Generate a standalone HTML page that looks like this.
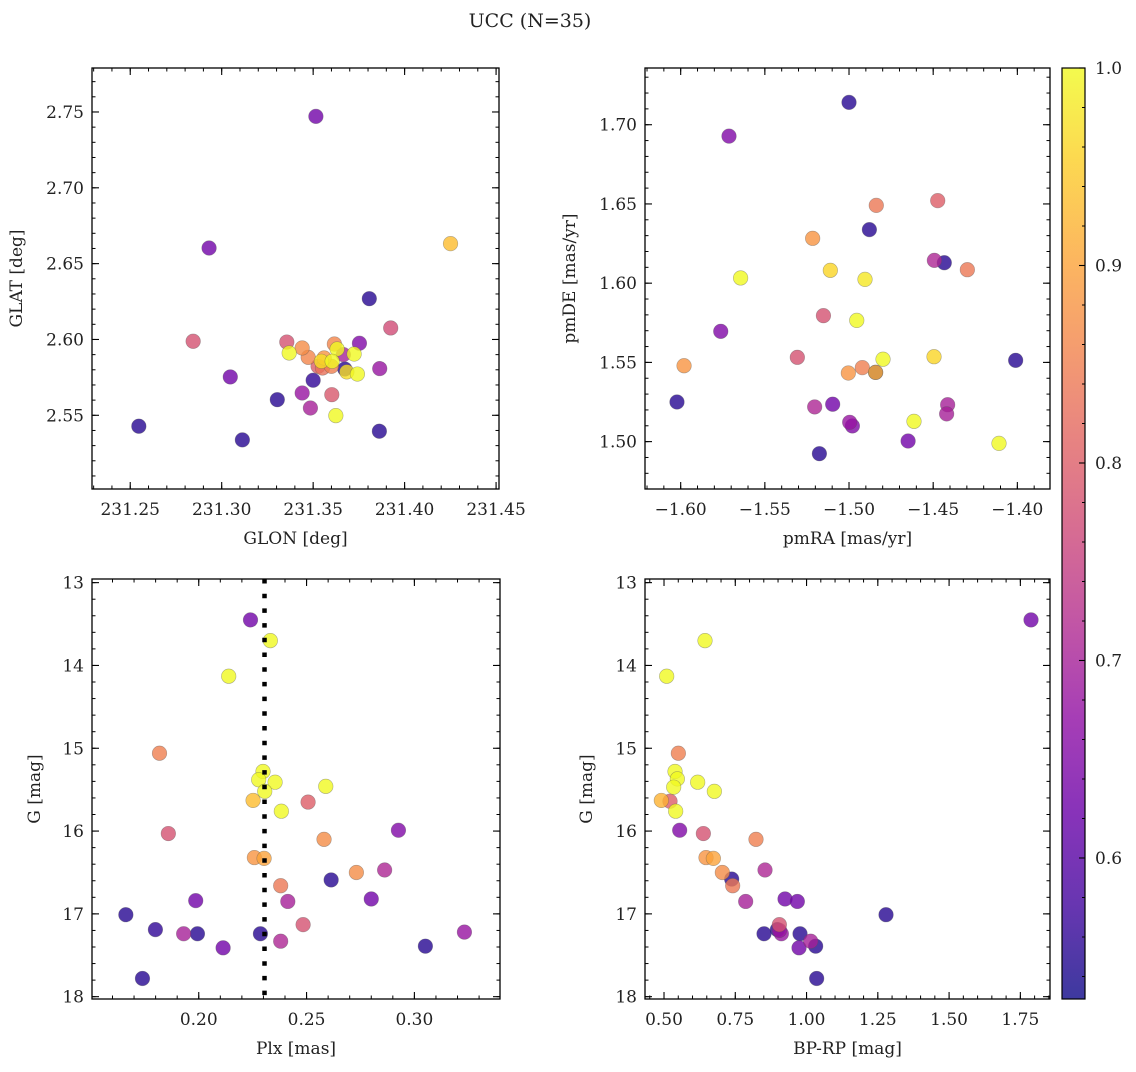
<!DOCTYPE html>
<html><head><meta charset="utf-8">
<style>
html,body{margin:0;padding:0;background:#fff;}
svg text{font-family:"DejaVu Serif","Liberation Serif",serif;fill:#222;}
</style></head>
<body>
<svg id="fig" width="1136" height="1067" viewBox="0 0 1136 1067" xmlns="http://www.w3.org/2000/svg">
<text x="530" y="27" font-size="19" text-anchor="middle">UCC (N=35)</text>
</svg>
<script>
// ---- data: panel 1 (GLON/GLAT) ----
const glonVals=[231.3515,231.2931,231.4251,231.3807,231.3924,231.2844,231.3356,231.3369,231.3440,231.3473,231.3616,231.3631,231.3753,231.3665,231.3724,231.3560,231.3545,231.3604,231.3527,231.3600,231.3551,231.3673,231.3684,231.3742,231.3864,231.3047,231.3500,231.3440,231.3602,231.3304,231.3485,231.3624,231.2547,231.3862,231.3113];
const glatVals=[2.7471,2.6603,2.6632,2.6269,2.6076,2.5988,2.5983,2.5911,2.5944,2.5882,2.5970,2.5937,2.5975,2.5900,2.5904,2.5878,2.5856,2.5856,2.5823,2.5823,2.5812,2.5805,2.5786,2.5772,2.5808,2.5753,2.5731,2.5647,2.5636,2.5603,2.5548,2.5498,2.5428,2.5395,2.5338];
const probP1=[0.63,0.63,0.93,0.55,0.77,0.78,0.78,1.0,0.87,0.86,0.86,1.0,0.65,0.70,1.0,0.88,0.97,1.0,0.80,0.85,0.83,0.55,0.97,1.0,0.68,0.63,0.56,0.68,0.79,0.55,0.70,1.0,0.55,0.55,0.55];
// ---- data: panel 2 (pmRA/pmDE) ----
const pmraVals=[-1.5000,-1.5713,-1.4838,-1.4473,-1.4879,-1.5216,-1.4493,-1.4434,-1.4297,-1.5644,-1.5111,-1.4905,-1.5152,-1.4954,-1.5762,-1.5307,-1.5980,-1.4798,-1.4495,-1.4010,-1.5004,-1.4921,-1.4842,-1.4842,-1.6022,-1.5204,-1.5097,-1.4414,-1.4420,-1.4996,-1.4980,-1.4614,-1.4649,-1.4109,-1.5176];
const pmdeVals=[1.7141,1.6928,1.6491,1.6521,1.6338,1.6283,1.6144,1.6129,1.6085,1.6033,1.6081,1.6024,1.5795,1.5765,1.5696,1.5532,1.5479,1.5520,1.5536,1.5513,1.5433,1.5467,1.5437,1.5437,1.5250,1.5219,1.5236,1.5233,1.5175,1.5122,1.5099,1.5128,1.5004,1.4989,1.4924];
const probP2=[0.55,0.65,0.84,0.80,0.55,0.88,0.71,0.55,0.84,1.0,0.96,0.98,0.78,1.0,0.65,0.78,0.88,1.0,0.96,0.55,0.88,0.85,0.55,0.92,0.55,0.71,0.63,0.70,0.70,0.68,0.65,1.0,0.63,1.0,0.55];
// ---- data: panel 3 (Plx/G) ----
const plxVals=[0.2240,0.2332,0.2139,0.1818,0.2298,0.2278,0.2354,0.2306,0.2589,0.2252,0.2507,0.2383,0.1859,0.2926,0.2581,0.2258,0.2303,0.2731,0.2862,0.2614,0.2380,0.1986,0.2413,0.2800,0.1662,0.2484,0.1799,0.1930,0.1994,0.2286,0.3232,0.2380,0.2113,0.3051,0.1739];
const gP3=[13.45,13.70,14.13,15.06,15.28,15.38,15.41,15.52,15.46,15.63,15.65,15.76,16.03,15.99,16.10,16.32,16.33,16.50,16.47,16.59,16.66,16.84,16.85,16.82,17.01,17.13,17.19,17.24,17.24,17.24,17.22,17.33,17.41,17.39,17.78];
const probP3=[0.63,1.0,1.0,0.85,1.0,1.0,1.0,1.0,1.0,0.93,0.80,1.0,0.78,0.65,0.87,0.88,0.90,0.87,0.71,0.55,0.84,0.63,0.70,0.63,0.55,0.78,0.56,0.70,0.55,0.55,0.68,0.71,0.63,0.55,0.55];
const plxMean=0.2305;
// ---- data: panel 4 (BP-RP/G) ----
const bprpVals=[1.7874,0.6438,0.5094,0.5503,0.5386,0.5468,0.6181,0.5339,0.6766,0.4906,0.5210,0.5409,0.5550,0.6380,0.8227,0.6473,0.6731,0.8543,0.7046,0.7374,0.7409,0.7865,0.9245,0.9677,1.2788,0.9046,0.8976,0.9116,0.8508,0.9771,1.0145,0.9736,1.0320,1.0355,0.9050];
const gP4=[13.45,13.70,14.13,15.06,15.28,15.37,15.41,15.47,15.52,15.63,15.64,15.76,15.99,16.03,16.10,16.32,16.33,16.47,16.50,16.58,16.66,16.85,16.82,16.85,17.01,17.13,17.19,17.24,17.24,17.24,17.33,17.41,17.39,17.78,17.20];
const probP4=[0.63,1.0,1.0,0.85,1.0,1.0,1.0,1.0,1.0,0.92,0.80,1.0,0.65,0.78,0.85,0.88,0.90,0.71,0.87,0.55,0.84,0.70,0.63,0.63,0.55,0.78,0.55,0.68,0.55,0.55,0.70,0.63,0.55,0.55,0.68];
// ---- tick labels ----
const p1XTicks=["231.25","231.30","231.35","231.40","231.45"];
const p1YTicks=["2.55","2.60","2.65","2.70","2.75"];
const p2XTicks=["-1.60","-1.55","-1.50","-1.45","-1.40"];
const p2YTicks=["1.50","1.55","1.60","1.65","1.70"];
const p3XTicks=["0.20","0.25","0.30"];
const gTicks=["13","14","15","16","17","18"];
const p4XTicks=["0.50","0.75","1.00","1.25","1.50","1.75"];
const cbTicks=["0.6","0.7","0.8","0.9","1.0"];

const NS="http://www.w3.org/2000/svg";
const svg=document.getElementById('fig');
function mk(tag,attrs,parent){const e=document.createElementNS(NS,tag);for(const k in attrs)e.setAttribute(k,attrs[k]);(parent||svg).appendChild(e);return e;}
const plasmaStops=["#0d0887","#41049d","#6a00a8","#8f0da4","#b12a90","#cc4778","#e16462","#f2844b","#fca636","#fcce25","#f0f921"];
function hex(h){return [parseInt(h.substr(1,2),16),parseInt(h.substr(3,2),16),parseInt(h.substr(5,2),16)];}
const VMIN=0.5286,VMAX=1.0;
function plasma(t){t=Math.max(0,Math.min(1,t));const f=t*10;const i=Math.min(9,Math.floor(f));const r=f-i;const a=hex(plasmaStops[i]),b=hex(plasmaStops[i+1]);return `rgb(${Math.round(a[0]+(b[0]-a[0])*r)},${Math.round(a[1]+(b[1]-a[1])*r)},${Math.round(a[2]+(b[2]-a[2])*r)})`;}
function cmap(v){return plasma((v-VMIN)/(VMAX-VMIN));}
const FS=17;

function panel(o){
  const g=mk('g',{});
  
  
  const sx=v=>o.x0+(v-o.xmin)/(o.xmax-o.xmin)*(o.x1-o.x0);
  const sy=o.invert? (v=>o.y0+(v-o.ymin)/(o.ymax-o.ymin)*(o.y1-o.y0)) : (v=>o.y1-(v-o.ymin)/(o.ymax-o.ymin)*(o.y1-o.y0));
  const mt=mk('g',{stroke:'#000','stroke-width':1},g);
  const eps=1e-9;
  for(let v=Math.ceil(o.xmin/o.xminor-eps)*o.xminor; v<=o.xmax+eps; v+=o.xminor){const x=sx(v);mk('line',{x1:x,x2:x,y1:o.y1,y2:o.y1-3.5},mt);mk('line',{x1:x,x2:x,y1:o.y0,y2:o.y0+3.5},mt);}
  const ylo=Math.min(o.ymin,o.ymax),yhi=Math.max(o.ymin,o.ymax);
  for(let v=Math.ceil(ylo/o.yminor-eps)*o.yminor; v<=yhi+eps; v+=o.yminor){const y=sy(v);mk('line',{x1:o.x0,x2:o.x0+3.5,y1:y,y2:y},mt);mk('line',{x1:o.x1,x2:o.x1-3.5,y1:y,y2:y},mt);}
  o.xt.forEach(s=>{const v=parseFloat(s);const x=sx(v);
    mk('line',{x1:x,x2:x,y1:o.y1,y2:o.y1-7,stroke:'#000','stroke-width':1.1},g);
    mk('line',{x1:x,x2:x,y1:o.y0,y2:o.y0+7,stroke:'#000','stroke-width':1.1},g);
    const t=mk('text',{x:x,y:o.y1+26,'font-size':FS,'text-anchor':'middle'},g);t.textContent=s.replace('-','\u2212');
    
    });
  o.yt.forEach(s=>{const v=parseFloat(s);const y=sy(v);
    mk('line',{x1:o.x0,x2:o.x0+7,y1:y,y2:y,stroke:'#000','stroke-width':1.1},g);
    mk('line',{x1:o.x1,x2:o.x1-7,y1:y,y2:y,stroke:'#000','stroke-width':1.1},g);
    const t=mk('text',{x:o.x0-8,y:y+6,'font-size':FS,'text-anchor':'end'},g);t.textContent=s;
    
    });
  const pg=mk('g',{},g);
  
  
  const idx=o.xs.map((_,i)=>i).sort((a,b)=>o.c[a]-o.c[b]);
  idx.forEach(i=>{const c=mk('circle',{cx:sx(o.xs[i]),cy:sy(o.ys[i]),r:7.3,fill:cmap(o.c[i]),'fill-opacity':0.8,stroke:'#555','stroke-opacity':0.45,'stroke-width':0.6},pg);
    
    });
  if(o.after)o.after(g,sx,sy);
  mk('rect',{x:o.x0,y:o.y0,width:o.x1-o.x0,height:o.y1-o.y0,fill:'none',stroke:'#000','stroke-width':1.3},g);
  const xl=mk('text',{x:(o.x0+o.x1)/2,y:o.y1+55,'font-size':FS,'text-anchor':'middle'},g);xl.textContent=o.xlabel;
  
  
  const yx=o.ylx, yy=(o.y0+o.y1)/2;
  const yl=mk('text',{x:yx,y:yy,'font-size':FS,'text-anchor':'middle',transform:`rotate(-90 ${yx} ${yy})`},g);yl.textContent=o.ylabel;
  
  
}

panel({name:'glon-glat-panel',x0:92,x1:499,y0:68,y1:489,xmin:231.2291,xmax:231.4516,ymin:2.5014,ymax:2.7790,xminor:0.01,yminor:0.01,
  xt:p1XTicks,yt:p1YTicks,xs:glonVals,ys:glatVals,c:probP1,xlabel:'GLON [deg]',ylabel:'GLAT [deg]',ylx:22});
panel({name:'pm-panel',x0:645,x1:1050,y0:68,y1:489,xmin:-1.6212,xmax:-1.3806,ymin:1.4701,ymax:1.7358,xminor:0.01,yminor:0.01,
  xt:p2XTicks,yt:p2YTicks,xs:pmraVals,ys:pmdeVals,c:probP2,xlabel:'pmRA [mas/yr]',ylabel:'pmDE [mas/yr]',ylx:575});
panel({name:'plx-g-panel',x0:92,x1:500,y0:579,y1:999,xmin:0.1505,xmax:0.3397,ymin:12.956,ymax:18.028,invert:true,xminor:0.01,yminor:0.2,
  xt:p3XTicks,yt:gTicks,xs:plxVals,ys:gP3,c:probP3,xlabel:'Plx [mas]',ylabel:'G [mag]',ylx:40,
  after:(g,sx,sy)=>{const x=sx(plxMean);const l=mk('line',{x1:x,x2:x,y1:579,y2:999,stroke:'#000','stroke-width':4.5,'stroke-dasharray':'4.5,10.2'},g);
    
    }});
panel({name:'cmd-panel',x0:645,x1:1050,y0:579,y1:999,xmin:0.4333,xmax:1.854,ymin:12.956,ymax:18.028,invert:true,xminor:0.05,yminor:0.2,
  xt:p4XTicks,yt:gTicks,xs:bprpVals,ys:gP4,c:probP4,xlabel:'BP-RP [mag]',ylabel:'G [mag]',ylx:592});

(function(){
  const cx0=1062,cx1=1085,cy0=68,cy1=999;
  const g=mk('g',{});
  
  
  const defs=mk('defs',{},g);
  const lg=mk('linearGradient',{id:'cbg',x1:0,y1:1,x2:0,y2:0},defs);
  for(let i=0;i<=20;i++){const t=i/20;mk('stop',{offset:t,'stop-color':plasma(t),'stop-opacity':0.8},lg);}
  mk('rect',{x:cx0,y:cy0,width:cx1-cx0,height:cy1-cy0,fill:'url(#cbg)'},g);
  const sy=v=>cy1-(v-VMIN)/(VMAX-VMIN)*(cy1-cy0);
  for(let v=0.54;v<=1.0001;v+=0.02){const y=sy(v);mk('line',{x1:cx1,x2:cx1-3,y1:y,y2:y,stroke:'#000','stroke-width':1},g);}
  cbTicks.forEach(s=>{const y=sy(parseFloat(s));
    mk('line',{x1:cx1,x2:cx1-6,y1:y,y2:y,stroke:'#000','stroke-width':1.1},g);
    const t=mk('text',{x:cx1+10,y:y+6,'font-size':FS},g);t.textContent=s;
    
    });
  mk('rect',{x:cx0,y:cy0,width:cx1-cx0,height:cy1-cy0,fill:'none',stroke:'#000','stroke-width':1.2},g);
})();
</script>
</body></html>
